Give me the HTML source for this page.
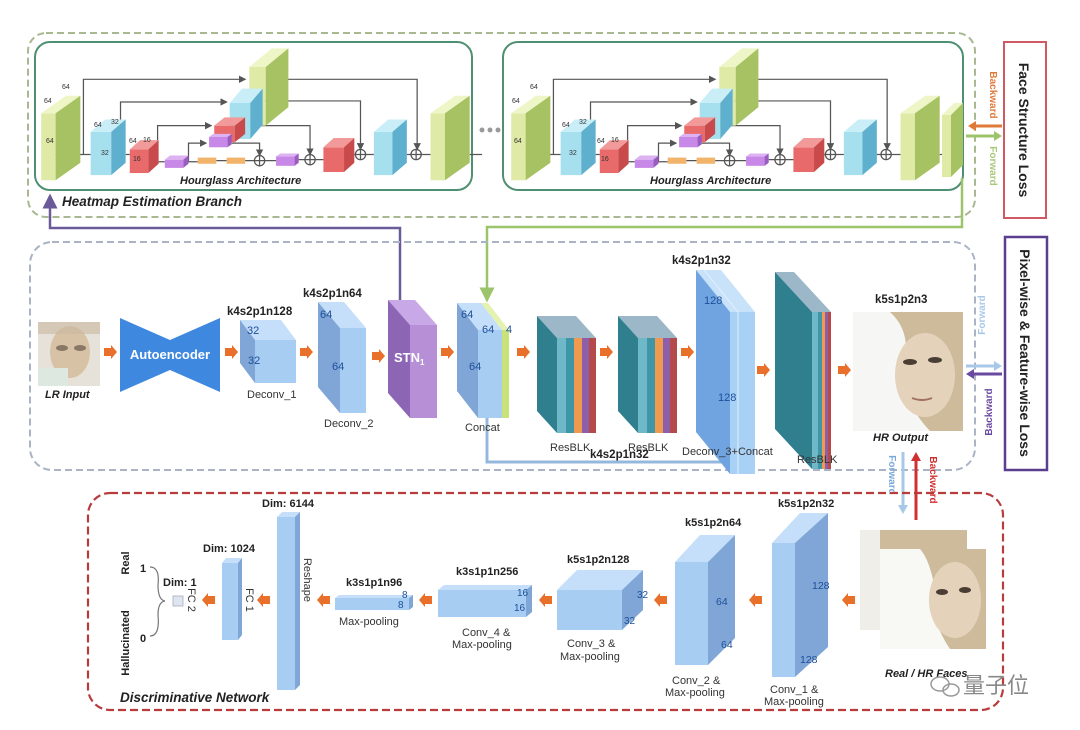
<!DOCTYPE html>
<html><head><meta charset="utf-8"><style>
html,body{margin:0;padding:0;background:#fff;}
svg{display:block;font-family:"Liberation Sans",sans-serif;}
.b{font-weight:bold}.bi{font-weight:bold;font-style:italic}
</style></head><body>
<svg width="1080" height="730" viewBox="0 0 1080 730" xmlns="http://www.w3.org/2000/svg">
<defs>
<marker id="ah" markerWidth="6" markerHeight="6" refX="5" refY="3" orient="auto"><path d="M0,0 L6,3 L0,6z" fill="#555"/></marker>
<marker id="ap" markerWidth="6" markerHeight="6" refX="5" refY="3" orient="auto"><path d="M0,0 L6,3 L0,6z" fill="#6a5a9a"/></marker>
<marker id="ag" markerWidth="6" markerHeight="6" refX="5" refY="3" orient="auto"><path d="M0,0 L6,3 L0,6z" fill="#9cc46a"/></marker>
<g id="oa"><polygon points="0,-4 7,-4 7,-7 13,0 7,7 7,4 0,4" fill="#e8702a"/></g>
<g id="hg">
 <g fill="none" stroke="#555" stroke-width="1.2">
  <path d="M81,150 V77 H238" marker-end="url(#ah)"/><path d="M268,77 H405 V145" marker-end="url(#ah)"/>
  <path d="M117,150 V99 H220" marker-end="url(#ah)"/><path d="M250,98 H350 V145" marker-end="url(#ah)"/>
  <path d="M153,158 V122 H205" marker-end="url(#ah)"/><path d="M236,122 H301 V150" marker-end="url(#ah)"/>
  <path d="M183,157 V139 H200" marker-end="url(#ah)"/><path d="M225,139 H252 V151" marker-end="url(#ah)"/>
  <path d="M54,150 H88 M122,150 H126 M154,157 H160 M183,157 H192 M210,156 H220 M238,156 H247 M257,156 H268 M290,155 H296 M306,155 H314 M344,150 H345 M355,150 H363 M395,150 H399 M409,150 H418 M456,150 H468"/>
  <circle cx="252" cy="156" r="5"/><path d="M247,156 H257 M252,151 V161"/>
  <circle cx="301" cy="155" r="5"/><path d="M296,155 H306 M301,150 V160"/>
  <circle cx="350" cy="150" r="5"/><path d="M345,150 H355 M350,145 V155"/>
  <circle cx="404" cy="150" r="5"/><path d="M399,150 H409 M404,145 V155"/>
 </g>
 <rect x="242" y="65" width="16" height="57" fill="#dfeaa6"/><polygon points="242,65 264,47 280,47 258,65" fill="#eef5c6"/><polygon points="258,65 280,47 280,104 258,122" fill="#a6c262"/>
 <rect x="223" y="100" width="20" height="35" fill="#a6e0ef"/><polygon points="223,100 235,86 255,86 243,100" fill="#c9eef8"/><polygon points="243,100 255,86 255,121 243,135" fill="#5fb0cf"/>
 <rect x="208" y="122" width="20" height="16" fill="#e86a6a"/><polygon points="208,122 218,114 238,114 228,122" fill="#f29a9a"/><polygon points="228,122 238,114 238,130 228,138" fill="#c84a4a"/>
 <rect x="203" y="133" width="18" height="10" fill="#c888e8"/><polygon points="203,133 207,130 225,130 221,133" fill="#ddb2f2"/><polygon points="221,133 225,130 225,140 221,143" fill="#9a5cc0"/>
 <rect x="40" y="110" width="14" height="65" fill="#dfeaa6"/><polygon points="40,110 64,93 78,93 54,110" fill="#eef5c6"/><polygon points="54,110 78,93 78,158 54,175" fill="#a6c262"/>
 <rect x="88" y="128" width="20" height="42" fill="#a6e0ef"/><polygon points="88,128 102,116 122,116 108,128" fill="#c9eef8"/><polygon points="108,128 122,116 122,158 108,170" fill="#5fb0cf"/>
 <rect x="126" y="145" width="18" height="23" fill="#e86a6a"/><polygon points="126,145 136,136 154,136 144,145" fill="#f29a9a"/><polygon points="144,145 154,136 154,159 144,168" fill="#c84a4a"/>
 <rect x="160" y="155" width="18" height="8" fill="#c888e8"/><polygon points="160,155 165,151 183,151 178,155" fill="#ddb2f2"/><polygon points="178,155 183,151 183,159 178,163" fill="#9a5cc0"/>
 <rect x="192" y="153" width="18" height="6" fill="#f2b36b"/><rect x="220" y="153" width="18" height="6" fill="#f2b36b"/>
 <rect x="268" y="152" width="18" height="9" fill="#c888e8"/><polygon points="268,152 272,149 290,149 286,152" fill="#ddb2f2"/><polygon points="286,152 290,149 290,158 286,161" fill="#9a5cc0"/>
 <rect x="314" y="143" width="20" height="24" fill="#e86a6a"/><polygon points="314,143 324,134 344,134 334,143" fill="#f29a9a"/><polygon points="334,143 344,134 344,158 334,167" fill="#c84a4a"/>
 <rect x="363" y="128" width="18" height="42" fill="#a6e0ef"/><polygon points="363,128 377,116 395,116 381,128" fill="#c9eef8"/><polygon points="381,128 395,116 395,158 381,170" fill="#5fb0cf"/>
 <rect x="418" y="110" width="14" height="65" fill="#dfeaa6"/><polygon points="418,110 442,93 456,93 432,110" fill="#eef5c6"/><polygon points="432,110 456,93 456,158 432,175" fill="#a6c262"/>
</g>
</defs>

<!-- Heatmap branch -->
<rect x="28" y="33" width="947" height="184" rx="18" fill="none" stroke="#a8b890" stroke-width="2" stroke-dasharray="7,4"/>
<rect x="35" y="42" width="437" height="148" rx="15" fill="none" stroke="#4f8f72" stroke-width="2"/>
<rect x="503" y="42" width="460" height="148" rx="15" fill="none" stroke="#4f8f72" stroke-width="2"/>
<g transform="scale(1.03,1.03)"><use href="#hg"/></g>
<g transform="translate(470,0) scale(1.03,1.03)"><use href="#hg"/></g>
<rect x="942" y="115" width="9" height="62" fill="#dfeaa6"/><polygon points="942,115 954,103 963,103 951,115" fill="#eef5c6"/><polygon points="951,115 963,103 963,165 951,177" fill="#a6c262"/>
<g font-size="7" fill="#333">
<text x="44" y="103">64</text><text x="62" y="89">64</text><text x="46" y="143">64</text>
<text x="94" y="127">64</text><text x="111" y="124">32</text><text x="101" y="155">32</text>
<text x="129" y="143">64</text><text x="143" y="142">16</text><text x="133" y="161">16</text>
<text x="512" y="103">64</text><text x="530" y="89">64</text><text x="514" y="143">64</text>
<text x="562" y="127">64</text><text x="579" y="124">32</text><text x="569" y="155">32</text>
<text x="597" y="143">64</text><text x="611" y="142">16</text><text x="601" y="161">16</text>
</g>
<g fill="#999"><circle cx="482" cy="130" r="2.5"/><circle cx="490" cy="130" r="2.5"/><circle cx="498" cy="130" r="2.5"/></g>
<text x="180" y="184" class="bi" font-size="11" fill="#222">Hourglass Architecture</text>
<text x="650" y="184" class="bi" font-size="11" fill="#222">Hourglass Architecture</text>
<text x="62" y="206" class="bi" font-size="13.5" fill="#222">Heatmap Estimation Branch</text>

<!-- Face structure loss -->
<rect x="1004" y="42" width="42" height="176" fill="#fff" stroke="#d05a64" stroke-width="2"/>
<text transform="translate(1019,130) rotate(90)" text-anchor="middle" class="b" font-size="14" fill="#222">Face Structure Loss</text>
<line x1="1002" y1="126" x2="972" y2="126" stroke="#e07a3a" stroke-width="3"/><polygon points="968,126 976,121 976,131" fill="#e07a3a"/>
<line x1="966" y1="136" x2="996" y2="136" stroke="#9cc46a" stroke-width="3"/><polygon points="1002,136 994,131 994,141" fill="#9cc46a"/>
<text transform="translate(990,95) rotate(90)" text-anchor="middle" class="b" font-size="10" fill="#e07a3a">Backward</text>
<text transform="translate(990,166) rotate(90)" text-anchor="middle" class="b" font-size="10" fill="#a8c87a">Forward</text>

<!-- connector lines -->
<path d="M400,300 V228 H50 V196" fill="none" stroke="#6a5a9a" stroke-width="2.5" marker-end="url(#ap)"/>
<path d="M962,178 V227 H487 V300" fill="none" stroke="#9cc46a" stroke-width="2.5" marker-end="url(#ag)"/>
<path d="M487,418 V462 H725 V446" fill="none" stroke="#94b8dc" stroke-width="3"/>

<!-- Upsampling -->
<rect x="30" y="242" width="945" height="228" rx="22" fill="none" stroke="#aab4c4" stroke-width="2" stroke-dasharray="7,4"/>
<rect x="38" y="322" width="62" height="64" fill="#e6e2da"/>
<ellipse cx="70" cy="352" rx="20" ry="26" fill="#d8c2a6"/><rect x="38" y="322" width="62" height="12" fill="#c9b7a0" opacity=".6"/>
<ellipse cx="62" cy="348" rx="6" ry="3" fill="#8a7866"/><ellipse cx="80" cy="348" rx="6" ry="3" fill="#8a7866"/><rect x="38" y="368" width="30" height="18" fill="#dde8e0"/>
<text x="45" y="398" class="bi" font-size="11" fill="#222">LR Input</text>
<use href="#oa" x="104" y="352"/>
<polygon points="120,318 170,340 220,318 220,392 170,370 120,392" fill="#3f88e0"/>
<text x="170" y="359" text-anchor="middle" class="b" font-size="13" fill="#fff">Autoencoder</text>
<use href="#oa" x="225" y="352"/>
<polygon points="240,320 281,320 296,340 255,340" fill="#c5defa"/><polygon points="240,320 255,340 255,383 240,363" fill="#7fa6d6"/><rect x="255" y="340" width="41" height="43" fill="#a8cdf2"/>
<g font-size="11" fill="#1d4f9a"><text x="247" y="334">32</text><text x="248" y="364">32</text></g>
<text x="227" y="315" class="b" font-size="11.5" fill="#222">k4s2p1n128</text>
<text x="247" y="398" font-size="11" fill="#333">Deconv_1</text>
<use href="#oa" x="300" y="352"/>
<polygon points="318,302 344,302 366,328 340,328" fill="#c5defa"/><polygon points="318,302 340,328 340,413 318,387" fill="#7fa6d6"/><rect x="340" y="328" width="26" height="85" fill="#a8cdf2"/>
<g font-size="11" fill="#1d4f9a"><text x="320" y="318">64</text><text x="332" y="370">64</text></g>
<text x="303" y="297" class="b" font-size="11.5" fill="#222">k4s2p1n64</text>
<text x="324" y="427" font-size="11" fill="#333">Deconv_2</text>
<use href="#oa" x="372" y="356"/>
<polygon points="388,300 415,300 437,325 410,325" fill="#c8a8e6"/><polygon points="388,300 410,325 410,418 388,393" fill="#8d65b5"/><rect x="410" y="325" width="27" height="93" fill="#b68fd6"/>
<text x="394" y="362" class="b" font-size="13" fill="#fff">STN<tspan font-size="8" dy="3">1</tspan></text>
<use href="#oa" x="441" y="352"/>
<polygon points="457,303 481,303 502,330 478,330" fill="#c5defa"/><polygon points="457,303 478,330 478,418 457,391" fill="#7fa6d6"/><rect x="478" y="330" width="24" height="88" fill="#a8cdf2"/>
<polygon points="481,303 488,303 509,330 502,330" fill="#e4f2b0"/><rect x="502" y="330" width="7" height="88" fill="#c9e27a"/>
<g font-size="11" fill="#1d4f9a"><text x="461" y="318">64</text><text x="482" y="333">64</text><text x="506" y="333">4</text><text x="469" y="370">64</text></g>
<text x="465" y="431" font-size="11" fill="#333">Concat</text>
<use href="#oa" x="517" y="352"/>
<polygon points="537,316 576,316 596,338 557,338" fill="#9cb8c8"/><polygon points="537,316 557,338 557,433 537,411" fill="#2f7f8f"/>
<rect x="557" y="338" width="9" height="95" fill="#6fb8c8"/><rect x="566" y="338" width="8" height="95" fill="#3f96a6"/><rect x="574" y="338" width="8" height="95" fill="#f09a50"/><rect x="582" y="338" width="7" height="95" fill="#8d5fa8"/><rect x="589" y="338" width="7" height="95" fill="#b54a4a"/>
<text x="550" y="451" font-size="11" fill="#333">ResBLK</text>
<use href="#oa" x="600" y="352"/>
<polygon points="618,316 657,316 677,338 638,338" fill="#9cb8c8"/><polygon points="618,316 638,338 638,433 618,411" fill="#2f7f8f"/>
<rect x="638" y="338" width="9" height="95" fill="#6fb8c8"/><rect x="647" y="338" width="8" height="95" fill="#3f96a6"/><rect x="655" y="338" width="8" height="95" fill="#f09a50"/><rect x="663" y="338" width="7" height="95" fill="#8d5fa8"/><rect x="670" y="338" width="7" height="95" fill="#b54a4a"/>
<text x="628" y="451" font-size="11" fill="#333">ResBLK</text>
<use href="#oa" x="681" y="352"/>
<polygon points="696,270 721,270 755,312 730,312" fill="#c8e2fa"/><polygon points="696,270 730,312 730,474 696,432" fill="#6fa4e0"/><rect x="730" y="312" width="25" height="162" fill="#a9d0f5"/>
<line x1="738" y1="312" x2="738" y2="474" stroke="#dff0ff" stroke-width="1"/><line x1="704" y1="270" x2="738" y2="312" stroke="#dff0ff"/>
<g font-size="11" fill="#1d4f9a"><text x="704" y="304">128</text><text x="718" y="401">128</text></g>
<text x="672" y="264" class="b" font-size="11.5" fill="#222">k4s2p1n32</text>
<text x="682" y="455" font-size="11" fill="#333">Deconv_3+Concat</text>
<use href="#oa" x="757" y="370"/>
<polygon points="775,272 794,272 831,312 812,312" fill="#9cb8c8"/><polygon points="775,272 812,312 812,469 775,429" fill="#2f7f8f"/>
<rect x="812" y="312" width="6" height="157" fill="#6fb8c8"/><rect x="818" y="312" width="4" height="157" fill="#3f96a6"/><rect x="822" y="312" width="3" height="157" fill="#f09a50"/><rect x="825" y="312" width="3" height="157" fill="#8d5fa8"/><rect x="828" y="312" width="3" height="157" fill="#b54a4a"/>
<text x="797" y="463" font-size="11" fill="#333">ResBLK</text>
<text x="590" y="458" class="b" font-size="11.5" fill="#222">k4s2p1n32</text>
<use href="#oa" x="838" y="370"/>
<rect x="853" y="312" width="110" height="119" fill="#f6f7f4"/>
<path d="M890,312 H963 V431 H930 Q900,400 905,360 Q910,330 890,312z" fill="#cdbb9c"/>
<ellipse cx="925" cy="375" rx="30" ry="42" fill="#e4d3ba"/>
<ellipse cx="910" cy="362" rx="7" ry="3" fill="#4a3d33"/><ellipse cx="935" cy="360" rx="7" ry="3" fill="#4a3d33"/><path d="M912,398 Q922,402 932,398" stroke="#a07060" stroke-width="2" fill="none"/>
<text x="875" y="303" class="b" font-size="11.5" fill="#222">k5s1p2n3</text>
<text x="873" y="441" class="bi" font-size="11" fill="#222">HR Output</text>
<line x1="966" y1="366" x2="996" y2="366" stroke="#a8c8ea" stroke-width="3"/><polygon points="1002,366 994,361 994,371" fill="#a8c8ea"/>
<line x1="1002" y1="374" x2="972" y2="374" stroke="#6a4aa0" stroke-width="3"/><polygon points="966,374 974,369 974,379" fill="#6a4aa0"/>
<text transform="translate(985,315) rotate(-90)" text-anchor="middle" class="b" font-size="10" fill="#a8c8ea">Forward</text>
<text transform="translate(992,412) rotate(-90)" text-anchor="middle" class="b" font-size="10" fill="#6a4aa0">Backward</text>
<rect x="1005" y="237" width="42" height="233" fill="#fff" stroke="#5a3f8e" stroke-width="2.5"/>
<text transform="translate(1020,353) rotate(90)" text-anchor="middle" class="b" font-size="14" fill="#222">Pixel-wise &amp; Feature-wise Loss</text>

<!-- vertical arrows -->
<line x1="903" y1="452" x2="903" y2="506" stroke="#a8c8ea" stroke-width="3"/><polygon points="903,514 898,505 908,505" fill="#a8c8ea"/>
<line x1="916" y1="520" x2="916" y2="460" stroke="#d03030" stroke-width="3"/><polygon points="916,452 911,461 921,461" fill="#d03030"/>
<text transform="translate(889,475) rotate(90)" text-anchor="middle" class="b" font-size="10" fill="#7aa8da">Forward</text>
<text transform="translate(930,480) rotate(90)" text-anchor="middle" class="b" font-size="10" fill="#d03030">Backward</text>

<!-- Discriminative -->
<rect x="88" y="493" width="915" height="217" rx="22" fill="none" stroke="#b83c3c" stroke-width="2.2" stroke-dasharray="8,4"/>
<text x="120" y="702" class="bi" font-size="13.5" fill="#222">Discriminative Network</text>
<text transform="translate(129,563) rotate(-90)" text-anchor="middle" class="b" font-size="11" fill="#222">Real</text>
<text transform="translate(129,643) rotate(-90)" text-anchor="middle" class="b" font-size="11" fill="#222">Hallucinated</text>
<text x="140" y="572" class="b" font-size="11" fill="#222">1</text><text x="140" y="642" class="b" font-size="11" fill="#222">0</text>
<path d="M150,567 Q160,567 158,585 Q158,600 165,601 Q158,602 158,615 Q160,636 150,636" fill="none" stroke="#777" stroke-width="1.2"/>
<text x="163" y="586" class="b" font-size="11" fill="#222">Dim: 1</text>
<rect x="173" y="596" width="10" height="10" fill="#dde6f0" stroke="#aab" stroke-width=".8"/>
<text transform="translate(188,600) rotate(90)" text-anchor="middle" font-size="11" fill="#333">FC 2</text>
<use href="#oa" transform="translate(215,600) scale(-1,1)"/>
<rect x="222" y="563" width="16" height="77" fill="#a8cdf2"/><polygon points="222,563 226,558 242,558 238,563" fill="#c5defa"/><polygon points="238,563 242,558 242,635 238,640" fill="#7fa6d6"/>
<text transform="translate(246,600) rotate(90)" text-anchor="middle" font-size="11" fill="#333">FC 1</text>
<text x="203" y="552" class="b" font-size="11" fill="#222">Dim: 1024</text>
<use href="#oa" transform="translate(270,600) scale(-1,1)"/>
<rect x="277" y="517" width="18" height="173" fill="#a8cdf2"/><polygon points="277,517 282,512 300,512 295,517" fill="#c5defa"/><polygon points="295,517 300,512 300,685 295,690" fill="#7fa6d6"/>
<text transform="translate(304,580) rotate(90)" text-anchor="middle" font-size="11" fill="#333">Reshape</text>
<text x="262" y="507" class="b" font-size="11" fill="#222">Dim: 6144</text>
<use href="#oa" transform="translate(330,600) scale(-1,1)"/>
<rect x="335" y="598" width="74" height="12" fill="#a8cdf2"/><polygon points="335,598 339,595 413,595 409,598" fill="#c5defa"/><polygon points="409,598 413,595 413,607 409,610" fill="#7fa6d6"/>
<g font-size="10" fill="#1d4f9a"><text x="402" y="598">8</text><text x="398" y="608">8</text></g>
<text x="346" y="586" class="b" font-size="11" fill="#222">k3s1p1n96</text>
<text x="339" y="625" font-size="11" fill="#333">Max-pooling</text>
<use href="#oa" transform="translate(432,600) scale(-1,1)"/>
<rect x="438" y="590" width="88" height="27" fill="#a8cdf2"/><polygon points="438,590 444,585 532,585 526,590" fill="#c5defa"/><polygon points="526,590 532,585 532,612 526,617" fill="#7fa6d6"/>
<g font-size="10" fill="#1d4f9a"><text x="517" y="596">16</text><text x="514" y="611">16</text></g>
<text x="456" y="575" class="b" font-size="11" fill="#222">k3s1p1n256</text>
<text x="462" y="636" font-size="11" fill="#333">Conv_4 &amp;</text><text x="452" y="648" font-size="11" fill="#333">Max-pooling</text>
<use href="#oa" transform="translate(552,600) scale(-1,1)"/>
<rect x="557" y="590" width="65" height="40" fill="#a8cdf2"/><polygon points="557,590 577,570 643,570 622,590" fill="#c5defa"/><polygon points="622,590 643,570 643,610 622,630" fill="#7fa6d6"/>
<g font-size="10" fill="#1d4f9a"><text x="637" y="598">32</text><text x="624" y="624">32</text></g>
<text x="567" y="563" class="b" font-size="11" fill="#222">k5s1p2n128</text>
<text x="567" y="647" font-size="11" fill="#333">Conv_3 &amp;</text><text x="560" y="660" font-size="11" fill="#333">Max-pooling</text>
<use href="#oa" transform="translate(667,600) scale(-1,1)"/>
<rect x="675" y="562" width="33" height="103" fill="#a8cdf2"/><polygon points="675,562 700,535 735,535 708,562" fill="#c5defa"/><polygon points="708,562 735,535 735,638 708,665" fill="#7fa6d6"/>
<g font-size="10.5" fill="#1d4f9a"><text x="716" y="605">64</text><text x="721" y="648">64</text></g>
<text x="685" y="526" class="b" font-size="11" fill="#222">k5s1p2n64</text>
<text x="672" y="684" font-size="11" fill="#333">Conv_2 &amp;</text><text x="665" y="696" font-size="11" fill="#333">Max-pooling</text>
<use href="#oa" transform="translate(762,600) scale(-1,1)"/>
<rect x="772" y="543" width="23" height="134" fill="#a8cdf2"/><polygon points="772,543 800,513 828,513 795,543" fill="#c5defa"/><polygon points="795,543 828,513 828,647 795,677" fill="#7fa6d6"/>
<g font-size="10.5" fill="#1d4f9a"><text x="812" y="589">128</text><text x="800" y="663">128</text></g>
<text x="778" y="507" class="b" font-size="11" fill="#222">k5s1p2n32</text>
<text x="770" y="693" font-size="11" fill="#333">Conv_1 &amp;</text><text x="764" y="705" font-size="11" fill="#333">Max-pooling</text>
<use href="#oa" transform="translate(855,600) scale(-1,1)"/>
<rect x="860" y="530" width="107" height="100" fill="#efeee8"/><path d="M880,530 H967 V560 H880z" fill="#cdbb9c"/>
<rect x="880" y="549" width="106" height="100" fill="#f8f8f5"/>
<path d="M920,549 H986 V649 H950 Q930,620 935,590 Q930,560 920,549z" fill="#cdbb9c"/>
<ellipse cx="955" cy="600" rx="26" ry="38" fill="#e4d3ba"/>
<ellipse cx="942" cy="592" rx="6" ry="3" fill="#4a3d33"/><ellipse cx="965" cy="590" rx="6" ry="3" fill="#4a3d33"/>
<text x="885" y="677" class="bi" font-size="11" fill="#222">Real / HR Faces</text>
<g fill="none" stroke="#999" stroke-width="1.5"><ellipse cx="940" cy="684" rx="9" ry="7"/><ellipse cx="951" cy="690" rx="8" ry="6"/></g>
<text x="963" y="693" font-family="'Noto Sans CJK SC',sans-serif" font-size="22" fill="#888">量子位</text>
</svg>
</body></html>
